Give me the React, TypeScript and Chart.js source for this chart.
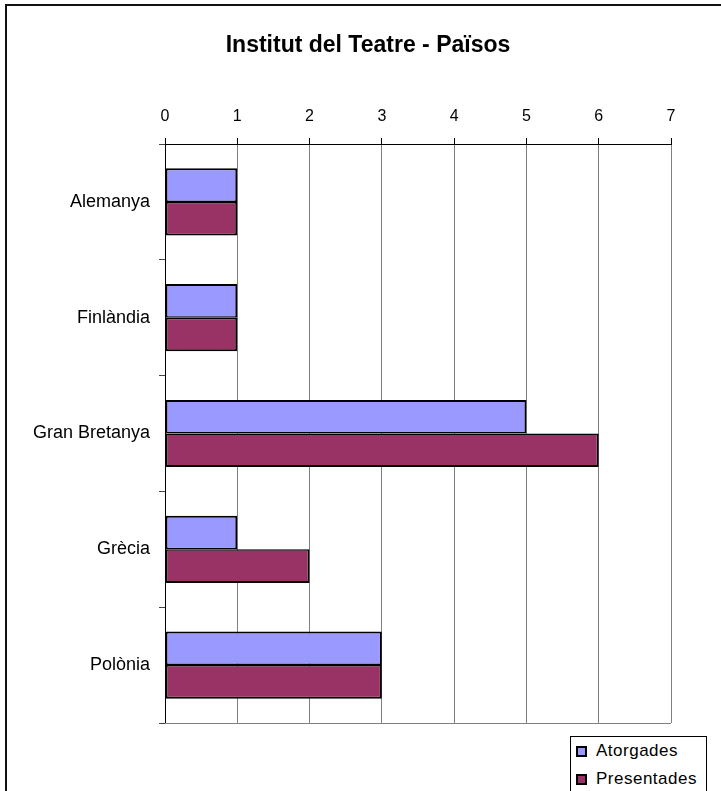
import React, { useEffect, useRef } from "react";
import { Chart, registerables } from "chart.js";

Chart.register(...registerables);

const categories = ["Alemanya", "Finlàndia", "Gran Bretanya", "Grècia", "Polònia"];
const atorgades = [1, 1, 5, 1, 3];
const presentades = [1, 1, 6, 2, 3];
const seriesNames = ["Atorgades", "Presentades"];
const seriesColors = ["#9999FF", "#993366"];
const xMin = 0;
const xMax = 7;
const xStep = 1;
const chartTitle = "Institut del Teatre - Països";

const FONT = "'Liberation Sans', Arial, Helvetica, sans-serif";

const CANVAS_W = 736;
const CANVAS_H = 791;
const TITLE_PAD_TOP = 32;
const TITLE_PAD_BOTTOM = 8;
const TITLE_SIZE = 23;
const PLOT_TOP = 144;
const PLOT_LEFT = 165;
const PLOT_RIGHT = 671;
const PLOT_BOTTOM = 723;

const plotBorder = {
  id: "plotBorder",
  beforeDatasetsDraw(chart: any) {
    const { ctx, chartArea } = chart;
    ctx.save();
    ctx.strokeStyle = "#808080";
    ctx.lineWidth = 1;
    ctx.beginPath();
    ctx.moveTo(chartArea.left, Math.round(chartArea.bottom) + 0.5);
    ctx.lineTo(chartArea.right, Math.round(chartArea.bottom) + 0.5);
    ctx.stroke();
    ctx.restore();
  },
};

export default function App() {
  const canvasRef = useRef<HTMLCanvasElement | null>(null);

  useEffect(() => {
    if (!canvasRef.current) return;
    const titleBoxH = TITLE_PAD_TOP + TITLE_SIZE * 1.2 + TITLE_PAD_BOTTOM;
    const chart = new Chart(canvasRef.current, {
      type: "bar",
      data: {
        labels: categories,
        datasets: [
          {
            label: seriesNames[0],
            data: atorgades,
            backgroundColor: seriesColors[0],
            borderColor: "#000",
            borderWidth: { top: 2, right: 2, bottom: 1.5, left: 2 },
            borderSkipped: false,
            categoryPercentage: 0.58,
            barPercentage: 1,
          },
          {
            label: seriesNames[1],
            data: presentades,
            backgroundColor: seriesColors[1],
            borderColor: "#000",
            borderWidth: { top: 1.5, right: 2, bottom: 2, left: 2 },
            borderSkipped: false,
            categoryPercentage: 0.58,
            barPercentage: 1,
          },
        ],
      },
      options: {
        indexAxis: "y",
        responsive: false,
        animation: false,
        devicePixelRatio: 1,
        layout: {
          padding: { left: 0, right: 0, top: 0, bottom: CANVAS_H - PLOT_BOTTOM },
        },
        plugins: {
          legend: { display: false },
          tooltip: { enabled: false },
          title: {
            display: true,
            text: chartTitle,
            color: "#000",
            font: { family: FONT, size: TITLE_SIZE, weight: "bold", lineHeight: 1.2 },
            padding: { top: TITLE_PAD_TOP, bottom: TITLE_PAD_BOTTOM },
          },
        },
        scales: {
          x: {
            position: "top",
            min: xMin,
            max: xMax,
            ticks: {
              stepSize: xStep,
              color: "#000",
              font: { family: FONT, size: 16 },
              padding: 12,
            },
            grid: {
              color: "#808080",
              tickColor: "#000",
              tickLength: 6,
              drawTicks: true,
              lineWidth: 1,
            },
            border: { color: "#000", width: 1 },
            afterFit: (s: any) => {
              s.height = PLOT_TOP - titleBoxH;
            },
          },
          y: {
            position: "left",
            ticks: {
              color: "#000",
              font: { family: FONT, size: 18 },
              padding: 9,
            },
            grid: {
              drawOnChartArea: false,
              drawTicks: true,
              tickLength: 6,
              color: "#444",
              offset: true,
            },
            border: { color: "#000", width: 1 },
            afterFit: (s: any) => {
              s.width = PLOT_LEFT;
            },
          },
          spacer: {
            type: "linear",
            axis: "y",
            position: "right",
            display: true,
            ticks: { display: false },
            grid: { display: false, drawTicks: false },
            border: { display: false },
            afterFit: (s: any) => {
              s.width = CANVAS_W - PLOT_RIGHT;
            },
          },
        },
      },
      plugins: [plotBorder],
    } as any);
    return () => chart.destroy();
  }, []);

  return (
    <div
      style={{
        position: "fixed",
        left: 0,
        top: 0,
        width: 721,
        height: 791,
        overflow: "hidden",
        background: "#fff",
      }}
    >
      <div
        style={{
          position: "absolute",
          left: 5,
          top: 4,
          width: 800,
          height: 820,
          border: "2px solid #111",
        }}
      />
      <canvas
        ref={canvasRef}
        width={CANVAS_W}
        height={CANVAS_H}
        style={{ position: "absolute", left: 0, top: 0, width: CANVAS_W, height: CANVAS_H }}
      />
      <div
        style={{
          position: "absolute",
          left: 570,
          top: 736,
          width: 137,
          height: 70,
          boxSizing: "border-box",
          border: "1px solid #000",
          background: "#fff",
          fontFamily: FONT,
          fontSize: 17,
          letterSpacing: 0.5,
          color: "#000",
        }}
      >
        {seriesNames.map((name, i) => (
          <div
            key={name}
            style={{
              position: "absolute",
              left: 5,
              top: 4 + i * 28,
              height: 20,
              display: "flex",
              alignItems: "center",
              whiteSpace: "nowrap",
            }}
          >
            <span
              style={{
                display: "inline-block",
                width: 11,
                height: 11,
                boxSizing: "border-box",
                border: "2px solid #000",
                background: seriesColors[i],
                marginRight: 9,
              }}
            />
            <span>{name}</span>
          </div>
        ))}
      </div>
    </div>
  );
}
